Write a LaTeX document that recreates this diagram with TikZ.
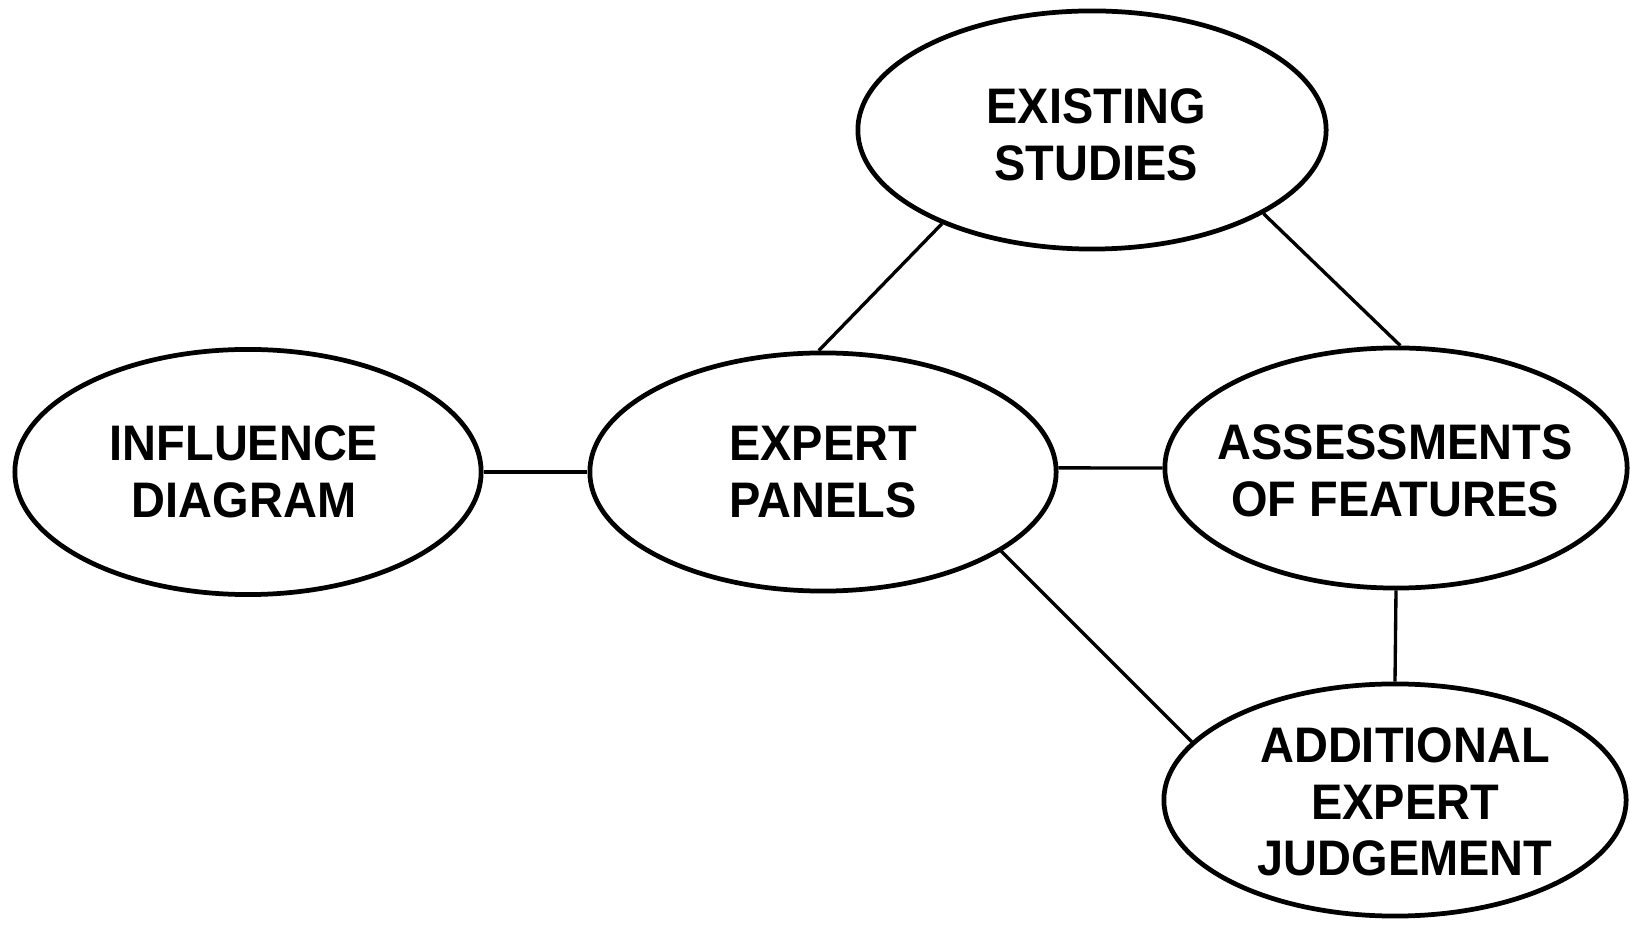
\documentclass[tikz,border=0pt]{standalone}
\usepackage{fontspec}
\usetikzlibrary{shapes.geometric}
\newfontfamily\lblfont[FakeStretch=0.94]{Liberation Sans}
\begin{document}
\begin{tikzpicture}[x=0.01cm,y=-0.01cm,
  blob/.style={draw,line width=1.35pt,ellipse,inner sep=0pt,minimum width=4.66cm,minimum height=2.38cm},
  lbl/.style={align=center,inner sep=0pt,font=\lblfont\bfseries\fontsize{14.2}{16.1}\selectfont},
  link/.style={line width=0.95pt}]
\useasboundingbox (0,0) rectangle (1630,925);
\fill[white] (0,0) rectangle (1630,925);

% ovals
\node[blob,minimum width=4.68cm] (es) at (1092,130) {};
\node[blob,minimum height=2.45cm] (id) at (248,472) {};
\node[blob] (ep) at (823,472) {};
\node[blob,minimum width=4.62cm,minimum height=2.40cm] (af) at (1396,468) {};
\node[blob,minimum width=4.62cm,minimum height=2.32cm] (aj) at (1395,800) {};

% labels
\node[lbl] (es-t) at (1096,135) {EXISTING\\STUDIES};
\node[lbl] (id-t) at (244,472) {INFLUENCE\\DIAGRAM};
\node[lbl] (ep-t) at (823,472) {EXPERT\\PANELS};
\node[lbl] (af-t) at (1395,471) {ASSESSMENTS\\OF FEATURES};
\node[lbl] (aj-t) at (1405,802) {ADDITIONAL\\EXPERT\\JUDGEMENT};

% connectors
\draw[link] (id.east) -- (ep.west);
\draw[link] (ep.1) -- (af.west);
\draw[link] (es.212.8) -- (ep.92);
\draw[link] (es.334.8) -- (af.88);
\draw[link] (ep.336) -- (aj.164.6);
\draw[link] (af.270.5) -- (aj.north);
\end{tikzpicture}
\end{document}
